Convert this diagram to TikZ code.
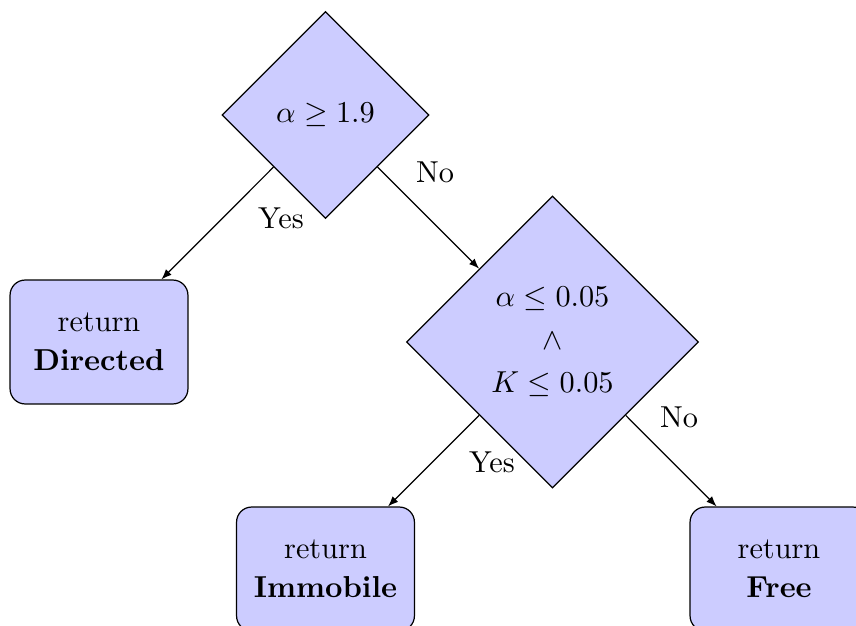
\documentclass[tikz,border=0pt]{standalone}
\usetikzlibrary{shapes.geometric,arrows.meta}
\begin{document}
\begin{tikzpicture}[x=0.33pt,y=-0.33pt,
  decision/.style={diamond, draw, fill=blue!20, inner sep=0pt, align=center},
  block/.style={rectangle, draw, fill=blue!20, rounded corners=5pt, minimum width=58.7pt, minimum height=40.9pt, inner sep=0pt, align=center},
  conn/.style={draw, -{Latex[length=3.4pt,width=2.6pt]}},
  lbl/.style={inner sep=0pt}]
\useasboundingbox (0,0) rectangle (856,626);
\node[decision, minimum width=68.3pt, minimum height=68.3pt] (d1) at (325.5,115) {$\alpha \geq 1.9$};
\node[decision, minimum width=96.4pt, minimum height=96.4pt] (d2) at (552.5,342) {$\alpha \leq 0.05$\\[2.2pt] $\wedge$\\[2.2pt] $K \leq 0.05$};
\node[block] (dir) at (99,342) {return\\[1pt] \textbf{Directed}};
\node[block] (imm) at (325.5,569) {return\\[1pt] \textbf{Immobile}};
\node[block] (free) at (779,569) {return\\[1pt] \textbf{Free}};
\path[conn] (d1) -- (dir);
\path[conn] (d1) -- (d2);
\path[conn] (d2) -- (imm);
\path[conn] (d2) -- (free);
\node[lbl] (l1) at (281,218) {Yes};
\node[lbl] (l2) at (435,172) {No};
\node[lbl] (l3) at (492,462) {Yes};
\node[lbl] (l4) at (679,417) {No};
\end{tikzpicture}
\end{document}
